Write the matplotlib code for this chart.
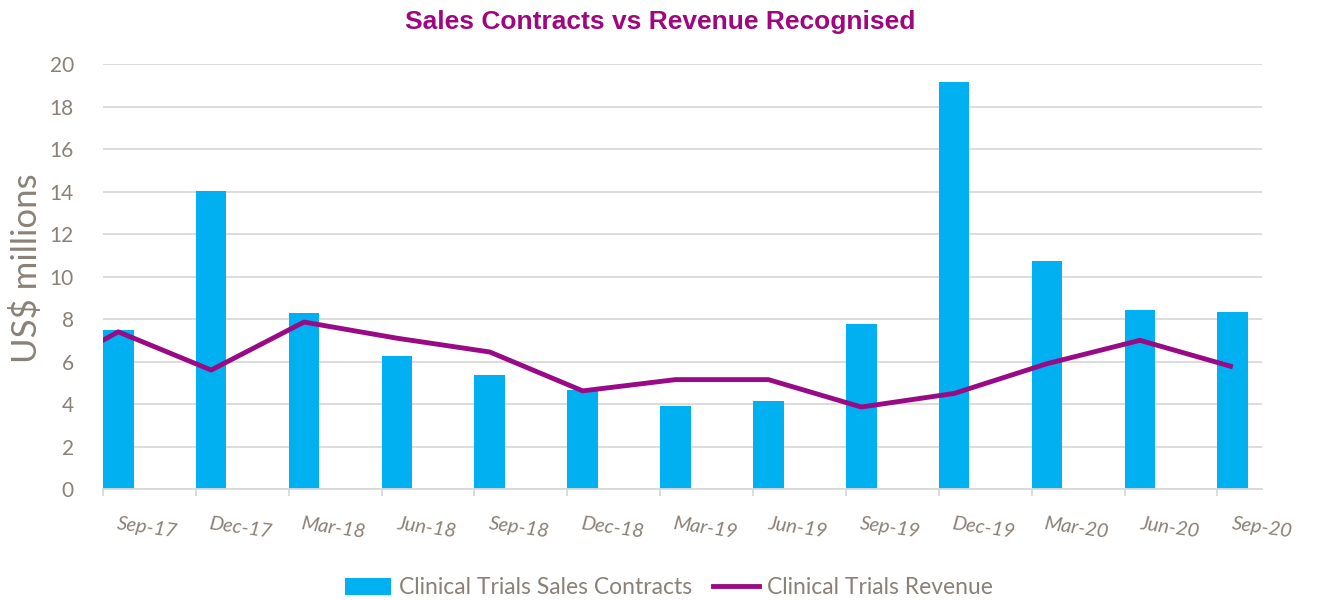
import numpy as np
import matplotlib
matplotlib.use('Agg')
import matplotlib.pyplot as plt
from matplotlib.patches import Patch
from matplotlib.lines import Line2D

# quarter labels; Jun-17 only feeds the start of the revenue line (clipped at left edge)
quarters = ['Jun-17', 'Sep-17', 'Dec-17', 'Mar-18', 'Jun-18', 'Sep-18', 'Dec-18',
            'Mar-19', 'Jun-19', 'Sep-19', 'Dec-19', 'Mar-20', 'Jun-20', 'Sep-20']
sales_contracts = [np.nan, 7.5, 14.05, 8.28, 6.26, 5.36, 4.66,
                   3.9, 4.14, 7.76, 19.15, 10.73, 8.42, 8.33]
revenue = [5.0, 7.4, 5.6, 7.86, 7.1, 6.45, 4.62,
           5.15, 5.15, 3.86, 4.5, 5.9, 7.0, 5.75]
y_ticks = [0, 2, 4, 6, 8, 10, 12, 14, 16, 18, 20]

BLUE = '#00B0F0'
PURPLE = '#990A86'
TITLE_PURPLE = '#A0077F'
GREY = '#8a8178'
GRID = '#d9d9d9'

plt.rcParams['font.family'] = ['Lato', 'DejaVu Sans']

fig = plt.figure(figsize=(13.25, 6), dpi=100)
ax = fig.add_axes([0.0777, 0.185, 0.8748, 0.708])

x = np.arange(len(quarters))
bar_w = 0.33
ax.bar(x, sales_contracts, width=bar_w, align='edge', color=BLUE, zorder=2)
ax.plot(x + bar_w / 2, revenue, color=PURPLE, lw=3.5, zorder=3,
        solid_joinstyle='round', solid_capstyle='butt')

ax.set_xlim(1, len(quarters) - 1 + bar_w + 0.01)
ax.set_ylim(0, 20)
ax.set_yticks(y_ticks)
ax.yaxis.grid(True, color=GRID, lw=1.3, zorder=0)
ax.set_axisbelow(True)
for s in ['left', 'right', 'top']:
    ax.spines[s].set_visible(False)
ax.spines['bottom'].set_color(GRID)
ax.spines['bottom'].set_linewidth(1.3)
ax.tick_params(axis='y', length=0, labelsize=15, labelcolor=GREY, pad=21)

# category boundary ticks, labels sit between them
ax.set_xticks(x[1:])
ax.set_xticklabels([])
ax.tick_params(axis='x', which='major', length=5, color=GRID, width=1.3)
ax.set_xticks(x[1:] + 0.48, minor=True)
ax.set_xticklabels(quarters[1:], minor=True, rotation=-8, fontsize=14.5,
                   color=GREY, style='italic')
ax.tick_params(axis='x', which='minor', length=0, pad=19)

ax.set_ylabel('US$ millions', fontsize=25, color=GREY)
ax.yaxis.set_label_coords(-0.052, 0.52)

fig.text(0.4985, 0.963, 'Sales Contracts vs Revenue Recognised', ha='center', va='center',
         fontsize=19, fontweight='bold', color=TITLE_PURPLE, family='Liberation Sans')

handles = [Patch(facecolor=BLUE, edgecolor='none'),
           Line2D([0], [0], color=PURPLE, lw=3.5)]
fig.legend(handles, ['Clinical Trials Sales Contracts', 'Clinical Trials Revenue'],
           loc='center', bbox_to_anchor=(0.505, 0.02), ncol=2, frameon=False,
           fontsize=16.5, labelcolor=GREY, handlelength=2.0, handletextpad=0.35,
           columnspacing=0.9)

fig.savefig('out.png', dpi=100)
